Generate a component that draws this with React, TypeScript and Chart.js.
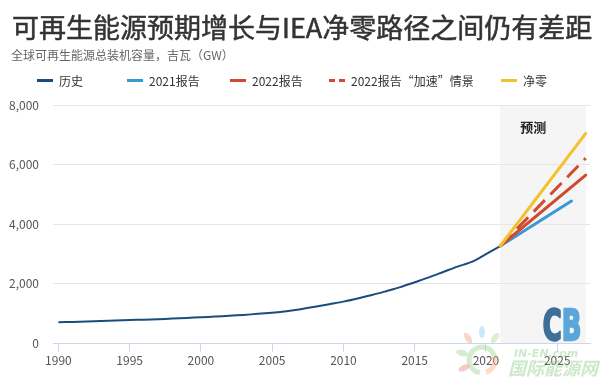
import React, { useEffect, useRef } from "react";
import { Chart, registerables } from "chart.js";

Chart.register(...registerables);

// ---------- data ----------
const historyYears = [
  1990, 1991, 1992, 1993, 1994, 1995, 1996, 1997, 1998, 1999,
  2000, 2001, 2002, 2003, 2004, 2005, 2006, 2007, 2008, 2009,
  2010, 2011, 2012, 2013, 2014, 2015, 2016, 2017, 2018, 2019,
  2020, 2021,
];
const historyValues = [
  711, 725, 740, 758, 773, 787, 800, 815, 835, 857,
  880, 905, 930, 960, 995, 1035, 1085, 1150, 1230, 1320,
  1405, 1510, 1625, 1755, 1890, 2055, 2220, 2400, 2580, 2740,
  3000, 3270,
];
const report2021Years = [2021, 2026];
const report2021Values = [3270, 4780];
const report2022Years = [2021, 2027];
const report2022Values = [3270, 5650];
const acceleratedYears = [2021, 2027];
const acceleratedValues = [3270, 6215];
const netZeroYears = [2021, 2027];
const netZeroValues = [3270, 7050];

const forecastRange = [2021, 2027];
const xTickYears = [1990, 1995, 2000, 2005, 2010, 2015, 2020, 2025];
const yTickValues = [0, 2000, 4000, 6000, 8000];

const titleText = "可再生能源预期增长与IEA净零路径之间仍有差距";
const subtitleText = "全球可再生能源总装机容量，吉瓦（GW）";
const forecastLabel = "预测";

const seriesNames = ["历史", "2021报告", "2022报告", "2022报告“加速”情景", "净零"];
const seriesColors = ["#1a4d7c", "#3a98d8", "#cf4a2e", "#cf4a2e", "#f2c12e"];

// ---------- layout ----------
const W = 600;
const H = 381;
const FONT = "'Noto Sans CJK SC', 'Noto Sans', sans-serif";
const legendLeft = [37, 127, 230, 329, 501];

const toPoints = (xs: number[], ys: number[]) => xs.map((x, i) => ({ x, y: ys[i] }));

const decorPlugin = {
  id: "decor",
  beforeDraw(chart: any) {
    const { ctx, chartArea, scales } = chart;
    const x0 = scales.x.getPixelForValue(forecastRange[0]);
    const x1 = scales.x.getPixelForValue(forecastRange[1]);
    ctx.save();
    ctx.fillStyle = "#f5f5f5";
    ctx.fillRect(x0, chartArea.top, x1 - x0, chartArea.bottom - chartArea.top);
    ctx.restore();
  },
  afterDraw(chart: any) {
    const { ctx, chartArea, scales } = chart;
    const x0 = scales.x.getPixelForValue(forecastRange[0]);
    const x1 = scales.x.getPixelForValue(forecastRange[1]);
    ctx.save();
    // forecast label
    ctx.fillStyle = "#222";
    ctx.font = `bold 13px ${FONT}`;
    ctx.textAlign = "center";
    ctx.textBaseline = "middle";
    ctx.fillText(forecastLabel, x0 + 33, chartArea.top + 22);

    // CB logo (condensed by horizontal scaling)
    ctx.save();
    ctx.font = `bold 43px 'DejaVu Sans', 'Liberation Sans', sans-serif`;
    ctx.textBaseline = "alphabetic";
    ctx.textAlign = "left";
    const baseY = chartArea.bottom - 4;
    const left = x1 - 43;
    ctx.translate(left, baseY);
    ctx.scale(0.6, 1);
    ctx.lineJoin = "round";
    ctx.lineWidth = 2.5;
    ctx.fillStyle = "#3e6f99";
    ctx.strokeStyle = "#3e6f99";
    ctx.fillText("C", 0, 0);
    ctx.strokeText("C", 0, 0);
    const cw = ctx.measureText("C").width;
    ctx.fillStyle = "#5aa6da";
    ctx.strokeStyle = "#5aa6da";
    ctx.fillText("B", cw, 0);
    ctx.strokeText("B", cw, 0);
    ctx.restore();

    // watermark
    ctx.globalAlpha = 0.45;
    const wx = 482;
    const wy = 360;
    ctx.lineWidth = 5;
    ctx.strokeStyle = "#9fd49b";
    ctx.beginPath();
    ctx.arc(wx, wy, 13, Math.PI * 0.55, Math.PI * 1.9);
    ctx.stroke();
    ctx.strokeStyle = "#f4b183";
    ctx.beginPath();
    ctx.arc(wx, wy, 13, Math.PI * 1.9, Math.PI * 2.4);
    ctx.stroke();
    const petals = [
      { dx: -14, dy: -22, c: "#f4a582", r: -0.6 },
      { dx: 0, dy: -28, c: "#8ec9ef", r: 0 },
      { dx: 13, dy: -22, c: "#b5dd8c", r: 0.6 },
      { dx: -20, dy: -7, c: "#9fd49b", r: -1.3 },
      { dx: -18, dy: 8, c: "#f08a8a", r: -2.0 },
    ];
    petals.forEach((p) => {
      ctx.fillStyle = p.c;
      ctx.beginPath();
      ctx.ellipse(wx + p.dx, wy + p.dy, 3, 6, p.r, 0, Math.PI * 2);
      ctx.fill();
    });
    ctx.fillStyle = "#8fcf8a";
    ctx.textAlign = "left";
    ctx.textBaseline = "alphabetic";
    ctx.font = `italic bold 11px 'DejaVu Sans', sans-serif`;
    ctx.fillText("IN-EN.com", 514, 357);
    ctx.font = `italic bold 18px ${FONT}`;
    ctx.fillText("国际能源网", 508, 375);
    ctx.restore();
  },
};

export default function App() {
  const canvasRef = useRef<HTMLCanvasElement | null>(null);

  useEffect(() => {
    document.body.style.margin = "0";
    const canvas = canvasRef.current;
    if (!canvas) return;
    const lineBase = {
      pointRadius: 0,
      pointHoverRadius: 0,
      fill: false,
      tension: 0,
    };
    const chart = new Chart(canvas, {
      type: "line",
      data: {
        datasets: [
          {
            ...lineBase,
            label: seriesNames[0],
            data: toPoints(historyYears, historyValues),
            borderColor: seriesColors[0],
            borderWidth: 2,
            tension: 0.3,
            order: 4,
          },
          {
            ...lineBase,
            label: seriesNames[1],
            data: toPoints(report2021Years, report2021Values),
            borderColor: seriesColors[1],
            borderWidth: 3,
            borderCapStyle: "round",
            order: 3,
          },
          {
            ...lineBase,
            label: seriesNames[2],
            data: toPoints(report2022Years, report2022Values),
            borderColor: seriesColors[2],
            borderWidth: 3,
            borderCapStyle: "round",
            order: 2,
          },
          {
            ...lineBase,
            label: seriesNames[3],
            data: toPoints(acceleratedYears, acceleratedValues),
            borderColor: seriesColors[3],
            borderWidth: 3,
            borderDash: [16, 8],
            order: 1,
          },
          {
            ...lineBase,
            label: seriesNames[4],
            data: toPoints(netZeroYears, netZeroValues),
            borderColor: seriesColors[4],
            borderWidth: 3,
            borderCapStyle: "round",
            order: 0,
          },
        ],
      },
      options: {
        animation: false,
        responsive: false,
        maintainAspectRatio: false,
        layout: { padding: { top: 105, right: 10, left: 0, bottom: 0 } },
        plugins: {
          legend: { display: false },
          tooltip: { enabled: false },
          title: { display: false },
        },
        scales: {
          x: {
            type: "linear",
            min: 1989.62,
            max: 2027.3,
            afterBuildTicks: (scale: any) => {
              scale.ticks = xTickYears.map((v) => ({ value: v }));
            },
            afterFit: (scale: any) => {
              scale.height = 37.5;
            },
            grid: {
              drawOnChartArea: false,
              drawTicks: true,
              tickLength: 8,
              color: "#ccd6eb",
            },
            border: { display: true, color: "#ccd6eb", width: 1 },
            ticks: {
              color: "#555",
              font: { family: FONT, size: 12 },
              padding: 2,
              maxRotation: 0,
              autoSkip: false,
              callback: (v: any) => String(v),
            },
          },
          y: {
            type: "linear",
            min: 0,
            max: 8000,
            afterBuildTicks: (scale: any) => {
              scale.ticks = yTickValues.map((v) => ({ value: v }));
            },
            afterFit: (scale: any) => {
              scale.width = 53;
            },
            grid: {
              drawTicks: false,
              color: (c: any) => (c.tick && c.tick.value === 0 ? "rgba(0,0,0,0)" : "#e6e6e6"),
              lineWidth: 1,
            },
            border: { display: false },
            ticks: {
              color: "#555",
              font: { family: FONT, size: 12 },
              padding: 14,
              callback: (v: any) => Number(v).toLocaleString("en-US"),
            },
          },
        },
      },
      plugins: [decorPlugin],
    } as any);
    return () => chart.destroy();
  }, []);

  return (
    <div style={{ position: "relative", width: W, height: H, background: "#fff", fontFamily: FONT }}>
      <canvas ref={canvasRef} width={W} height={H} style={{ position: "absolute", left: 0, top: 0 }} />
      <div
        style={{
          position: "absolute",
          left: 12,
          top: 8,
          fontSize: 27,
          fontWeight: 400,
          color: "#333",
          whiteSpace: "nowrap",
          lineHeight: "38px",
          WebkitTextStroke: "0.5px #333",
        }}
      >
        {titleText}
      </div>
      <div
        style={{
          position: "absolute",
          left: 11,
          top: 46,
          fontSize: 12,
          color: "#666",
          whiteSpace: "nowrap",
          lineHeight: "18px",
        }}
      >
        {subtitleText}
      </div>
      {seriesNames.map((name, i) => (
        <div
          key={name}
          style={{
            position: "absolute",
            left: legendLeft[i],
            top: 71,
            height: 18,
            display: "flex",
            alignItems: "center",
            whiteSpace: "nowrap",
            fontSize: 12,
            color: "#333",
          }}
        >
          <span
            style={{
              display: "inline-block",
              width: 16,
              height: 0,
              borderTop: `3px ${i === 3 ? "dashed" : "solid"} ${seriesColors[i]}`,
              marginRight: 6,
            }}
          />
          <span>{name}</span>
        </div>
      ))}
    </div>
  );
}
